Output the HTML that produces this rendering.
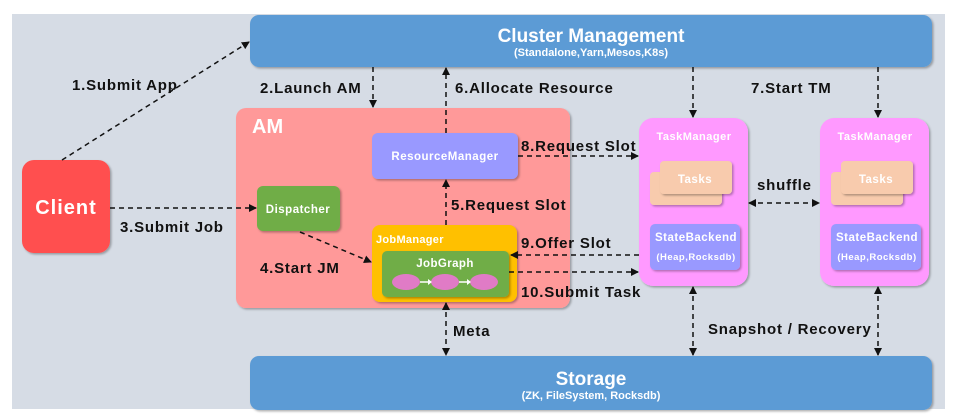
<!DOCTYPE html>
<html><head><meta charset="utf-8"><style>
html,body{margin:0;padding:0;background:#fff;width:959px;height:419px;overflow:hidden}
svg{display:block;font-family:"Liberation Sans",Arial,sans-serif;font-weight:bold}
</style></head><body>
<svg width="959" height="419" viewBox="0 0 959 419" xmlns="http://www.w3.org/2000/svg">
<defs>
<marker id="a" markerWidth="8" markerHeight="8" refX="7" refY="4" orient="auto" markerUnits="userSpaceOnUse"><path d="M0,0 L8,4 L0,8 z" fill="#111"/></marker>
<marker id="b" markerWidth="8" markerHeight="8" refX="1" refY="4" orient="auto" markerUnits="userSpaceOnUse"><path d="M8,0 L0,4 L8,8 z" fill="#111"/></marker>
<filter id="s" x="-10%" y="-10%" width="130%" height="130%"><feDropShadow dx="1.5" dy="1.5" stdDeviation="1" flood-color="#000" flood-opacity="0.3"/></filter>
</defs>
<rect x="12" y="14" width="933" height="395" fill="#d6dce5"/>
<rect x="250" y="15" width="682" height="52" rx="9" fill="#5b9bd5" filter="url(#s)"/>
<text x="591" y="42" text-anchor="middle" fill="#fff" font-size="19">Cluster Management</text>
<text x="591" y="56" text-anchor="middle" fill="#fff" font-size="11">(Standalone,Yarn,Mesos,K8s)</text>
<rect x="250" y="356" width="682" height="54" rx="9" fill="#5b9bd5" filter="url(#s)"/>
<text x="591" y="385" text-anchor="middle" fill="#fff" font-size="19">Storage</text>
<text x="591" y="399" text-anchor="middle" fill="#fff" font-size="11">(ZK, FileSystem, Rocksdb)</text>
<rect x="22" y="160" width="88" height="93" rx="12" fill="#ff5050" filter="url(#s)"/>
<text x="66" y="214" text-anchor="middle" fill="#fff" font-size="20" letter-spacing="1">Client</text>
<rect x="236" y="108" width="334" height="200" rx="10" fill="#ff9999" filter="url(#s)"/>
<text x="252" y="133" fill="#fff" font-size="20">AM</text>
<rect x="372" y="133" width="146" height="46" rx="6" fill="#9999ff" filter="url(#s)"/>
<text x="445" y="160" text-anchor="middle" fill="#fff" font-size="11.5" letter-spacing="0.5">ResourceManager</text>
<rect x="257" y="186" width="83" height="45" rx="6" fill="#70ad47" filter="url(#s)"/>
<text x="298" y="213" text-anchor="middle" fill="#fff" font-size="11.5" letter-spacing="0.5">Dispatcher</text>
<rect x="372" y="225" width="145" height="77" rx="8" fill="#ffc000" filter="url(#s)"/>
<text x="376" y="243" fill="#fff" font-size="11" letter-spacing="0.3">JobManager</text>
<rect x="382" y="251" width="127" height="46" rx="5" fill="#70ad47" filter="url(#s)"/>
<text x="445" y="267" text-anchor="middle" fill="#fff" font-size="11.5" letter-spacing="0.4">JobGraph</text>
<ellipse cx="406" cy="282" rx="14" ry="8" fill="#e07bc6"/>
<ellipse cx="445" cy="282" rx="14" ry="8" fill="#e07bc6"/>
<ellipse cx="484" cy="282" rx="14" ry="8" fill="#e07bc6"/>
<path d="M420,282 L429,282 M459,282 L468,282" stroke="#fff" stroke-width="1.5"/>
<path d="M428,279 L432,282 L428,285z M467,279 L471,282 L467,285z" fill="#fff"/>
<g>
<rect x="639" y="118" width="109" height="168" rx="14" fill="#ff99ff" filter="url(#s)"/>
<text x="694" y="140" text-anchor="middle" fill="#fff" font-size="11" letter-spacing="0.5">TaskManager</text>
<rect x="650" y="172" width="72" height="33" rx="4" fill="#f8cbad" filter="url(#s)"/>
<rect x="660" y="161" width="72" height="33" rx="4" fill="#f8cbad" filter="url(#s)"/>
<text x="695" y="183" text-anchor="middle" fill="#fff" font-size="11.5" letter-spacing="0.5">Tasks</text>
<rect x="650" y="224" width="90" height="46" rx="5" fill="#9999ff" filter="url(#s)"/>
<text x="696" y="241" text-anchor="middle" fill="#fff" font-size="11.5" letter-spacing="0.5">StateBackend</text>
<text x="696" y="260" text-anchor="middle" fill="#fff" font-size="9.5" letter-spacing="0.5">(Heap,Rocksdb)</text>
</g>
<g transform="translate(181,0)">
<rect x="639" y="118" width="109" height="168" rx="14" fill="#ff99ff" filter="url(#s)"/>
<text x="694" y="140" text-anchor="middle" fill="#fff" font-size="11" letter-spacing="0.5">TaskManager</text>
<rect x="650" y="172" width="72" height="33" rx="4" fill="#f8cbad" filter="url(#s)"/>
<rect x="660" y="161" width="72" height="33" rx="4" fill="#f8cbad" filter="url(#s)"/>
<text x="695" y="183" text-anchor="middle" fill="#fff" font-size="11.5" letter-spacing="0.5">Tasks</text>
<rect x="650" y="224" width="90" height="46" rx="5" fill="#9999ff" filter="url(#s)"/>
<text x="696" y="241" text-anchor="middle" fill="#fff" font-size="11.5" letter-spacing="0.5">StateBackend</text>
<text x="696" y="260" text-anchor="middle" fill="#fff" font-size="9.5" letter-spacing="0.5">(Heap,Rocksdb)</text>
</g>
<g stroke="#111" stroke-width="1.5" stroke-dasharray="5,4" fill="none">
<path d="M62,160 L249,42" marker-end="url(#a)"/>
<path d="M373,67 L373,107" marker-end="url(#a)"/>
<path d="M446,133 L446,68" marker-end="url(#a)"/>
<path d="M693,67 L693,117" marker-end="url(#a)"/>
<path d="M878,67 L878,117" marker-end="url(#a)"/>
<path d="M110,208 L256,208" marker-end="url(#a)"/>
<path d="M300,232 L371,262" marker-end="url(#a)"/>
<path d="M446,225 L446,180" marker-end="url(#a)"/>
<path d="M518,156 L638,156" marker-end="url(#a)"/>
<path d="M639,255 L511,255" marker-end="url(#a)"/>
<path d="M509,272 L638,272" marker-end="url(#a)"/>
<path d="M749,203 L819,203" marker-start="url(#b)" marker-end="url(#a)"/>
<path d="M446,303 L446,355" marker-start="url(#b)" marker-end="url(#a)"/>
<path d="M693,287 L693,355" marker-start="url(#b)" marker-end="url(#a)"/>
<path d="M878,287 L878,355" marker-start="url(#b)" marker-end="url(#a)"/>
</g>
<g fill="#111" font-size="15" letter-spacing="0.8">
<text x="72" y="90">1.Submit App</text>
<text x="260" y="93">2.Launch AM</text>
<text x="455" y="93">6.Allocate Resource</text>
<text x="751" y="93">7.Start TM</text>
<text x="120" y="232">3.Submit Job</text>
<text x="260" y="273">4.Start JM</text>
<text x="451" y="210">5.Request Slot</text>
<text x="521" y="151">8.Request Slot</text>
<text x="521" y="248">9.Offer Slot</text>
<text x="521" y="297">10.Submit Task</text>
<text x="757" y="190">shuffle</text>
<text x="453" y="336">Meta</text>
<text x="708" y="334">Snapshot / Recovery</text>
</g>
</svg>
</body></html>
